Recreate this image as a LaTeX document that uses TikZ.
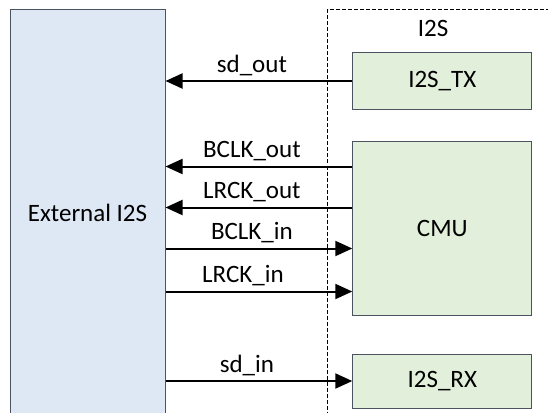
\documentclass[tikz,border=0pt]{standalone}
\usepackage{fontspec}
\setmainfont{Carlito}
\usetikzlibrary{arrows.meta, positioning}

\definecolor{extblue}{HTML}{DEE8F4}
\definecolor{blkgreen}{HTML}{E2EFDA}
\definecolor{boxedge}{HTML}{4A5460}

\begin{document}
\begin{tikzpicture}[
    x=1pt, y=-1pt,
    font=\fontsize{25}{29}\selectfont,
    ext box/.style = {
        rectangle,
        draw=boxedge,
        fill=extblue,
        line width=1pt,
        minimum width=155pt,
        minimum height=407pt,
        inner sep=0pt
    },
    block/.style = {
        rectangle,
        draw=boxedge,
        fill=blkgreen,
        line width=1pt,
        minimum width=179pt,
        minimum height=#1,
        inner sep=0pt
    },
    group box/.style = {
        rectangle,
        draw=black,
        line width=0.8pt,
        dash pattern=on 4pt off 2pt,
        minimum width=230pt,
        minimum height=410pt
    },
    sig/.style = {
        -{Triangle[length=17pt, width=15pt]},
        line width=2pt
    },
    lbl/.style = {anchor=base, yshift=9pt, xshift=#1},
    lbl/.default = -7pt
]

\useasboundingbox (0,0) rectangle (548,412);
\clip (0,0) rectangle (548,412);

\node [ext box] (ext) at (87.5,213) {External I2S};
\node [group box] (i2s) at (442.5,214.5) {};
\node (i2slbl) at (433,28) {I2S};

\node [block=56pt] (tx) at (442.3,81) {I2S\_TX};
\node [block=174pt] (cmu) at (442.3,228) {CMU};
\node [block=54pt] (rx) at (442.3,381) {I2S\_RX};

\coordinate (bclkout) at ([yshift=-26pt]cmu.north west);
\coordinate (lrckout) at ([yshift=-67pt]cmu.north west);
\coordinate (bclkin) at ([yshift=-108pt]cmu.north west);
\coordinate (lrckin) at ([yshift=-151pt]cmu.north west);

\draw[sig] (tx.west) -- (tx.west -| ext.east)
    node[lbl, midway] {sd\_out};

\draw[sig] (bclkout) -- (bclkout -| ext.east)
    node[lbl, midway] {BCLK\_out};

\draw[sig] (lrckout) -- (lrckout -| ext.east)
    node[lbl, midway] {LRCK\_out};

\draw[sig] (bclkin -| ext.east) -- (bclkin)
    node[lbl, midway] {BCLK\_in};

\draw[sig] (lrckin -| ext.east) -- (lrckin)
    node[lbl=-16pt, midway] {LRCK\_in};

\draw[sig] (rx.west -| ext.east) -- (rx.west)
    node[lbl=-12pt, midway] {sd\_in};

\end{tikzpicture}
\end{document}
